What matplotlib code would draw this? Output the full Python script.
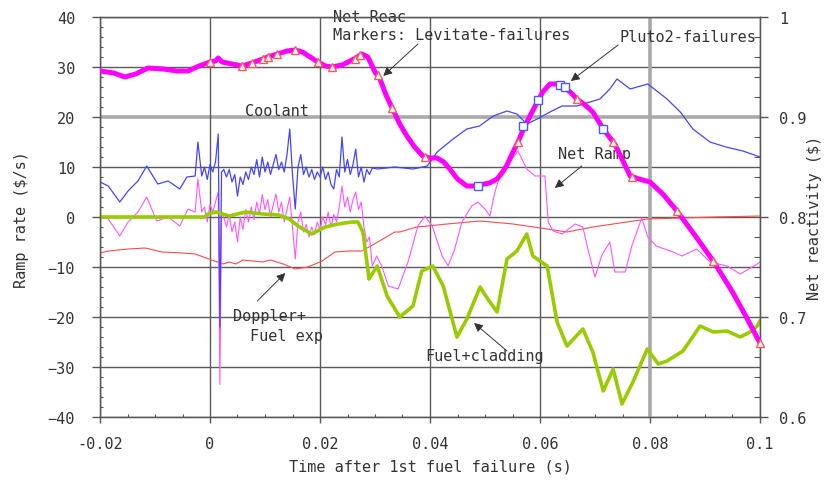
import matplotlib
matplotlib.use("Agg")
import matplotlib.pyplot as plt
from matplotlib.ticker import MultipleLocator, FixedLocator, FuncFormatter

plt.rcParams["font.family"] = ["DejaVu Sans Mono"]
plt.rcParams["font.size"] = 11

TEXT = "#333333"

# ---------------------------------------------------------------- data
# Net reactivity ($), right axis
net_t = [-0.0200, -0.0175, -0.0155, -0.0135, -0.0113, -0.0085, -0.0060, -0.0040,
         -0.0020, 0.0000, 0.0010, 0.0015, 0.0022, 0.0040, 0.0058, 0.0076, 0.0096,
         0.0105, 0.0122, 0.0140, 0.0155, 0.0168, 0.0182, 0.0196, 0.0210, 0.0222,
         0.0240, 0.0255, 0.0268, 0.0276, 0.0287, 0.0300, 0.0309, 0.0320, 0.0333,
         0.0345, 0.0358, 0.0372, 0.0387, 0.0400, 0.0413, 0.0425, 0.0436, 0.0450,
         0.0467, 0.0480, 0.0490, 0.0508, 0.0522, 0.0532, 0.0540, 0.0550, 0.0560,
         0.0570, 0.0578, 0.0595, 0.0605, 0.0618, 0.0630, 0.0640, 0.0655, 0.0667,
         0.0682, 0.0696, 0.0715, 0.0736, 0.0750, 0.0764, 0.0780, 0.0800, 0.0825,
         0.0849, 0.0880, 0.0915, 0.0950, 0.0975, 0.1000]
net_val = [0.946, 0.944, 0.940, 0.943, 0.949, 0.948, 0.946, 0.946,
           0.951, 0.955, 0.956, 0.959, 0.955, 0.953, 0.951, 0.954, 0.958,
           0.960, 0.963, 0.966, 0.967, 0.965, 0.960, 0.955, 0.951, 0.950,
           0.952, 0.956, 0.960, 0.963, 0.960, 0.945, 0.938, 0.922, 0.907,
           0.893, 0.881, 0.870, 0.861, 0.859, 0.859, 0.855, 0.848, 0.838,
           0.831, 0.831, 0.832, 0.834, 0.838, 0.845, 0.852, 0.864, 0.875,
           0.888, 0.897, 0.915, 0.925, 0.933, 0.933, 0.931, 0.925, 0.918,
           0.912, 0.905, 0.888, 0.873, 0.857, 0.841, 0.838, 0.835, 0.822,
           0.806, 0.783, 0.756, 0.725, 0.700, 0.674]

# Failure markers on the net reactivity curve
levitate_t = [0.0000, 0.0058, 0.0076, 0.0096, 0.0105, 0.0122, 0.0155, 0.0196, 0.0222,
              0.0264, 0.0273, 0.0305, 0.0331, 0.0391, 0.0560, 0.0667, 0.0733, 0.0767,
              0.0849, 0.0915, 0.1000]
levitate_val = [0.955, 0.951, 0.954, 0.958, 0.960, 0.963, 0.967, 0.955, 0.950,
                0.958, 0.962, 0.942, 0.909, 0.860, 0.875, 0.918, 0.875, 0.840,
                0.806, 0.756, 0.674]
pluto2_t = [0.0487, 0.0569, 0.0596, 0.0636, 0.0645, 0.0715]
pluto2_val = [0.831, 0.891, 0.917, 0.932, 0.930, 0.888]

# Ramp-rate components ($/s), left axis
noisy_t = [0.0025, 0.0030, 0.0035, 0.0040, 0.0045, 0.0050, 0.0055, 0.0060, 0.0065,
           0.0070, 0.0075, 0.0080, 0.0085, 0.0090, 0.0095, 0.0100, 0.0105, 0.0110,
           0.0115, 0.0120, 0.0125, 0.0130, 0.0135, 0.0140, 0.0145, 0.0150, 0.0155,
           0.0160, 0.0165, 0.0170, 0.0175, 0.0180, 0.0185, 0.0190, 0.0195, 0.0200,
           0.0205, 0.0210, 0.0215, 0.0220, 0.0225, 0.0230, 0.0235, 0.0240, 0.0245,
           0.0250, 0.0255, 0.0260, 0.0265, 0.0270, 0.0275, 0.0280, 0.0285, 0.0290,
           0.0295]

coolant_t = ([-0.0200, -0.0185, -0.0164, -0.0149, -0.0131, -0.0115, -0.0095, -0.0076,
              -0.0055, -0.0042, -0.0027, -0.0022, -0.0015, -0.0010, -0.0005, 0.0000,
              0.0005, 0.0010, 0.0015, 0.0018, 0.0021]
             + noisy_t
             + [0.0305, 0.0336, 0.0369, 0.0395, 0.0413, 0.0442, 0.0467, 0.0490, 0.0515,
                0.0540, 0.0558, 0.0576, 0.0595, 0.0618, 0.0640, 0.0667, 0.0691, 0.0709,
                0.0727, 0.0740, 0.0764, 0.0796, 0.0831, 0.0855, 0.0878, 0.0909, 0.0938,
                0.0969, 0.1000])
coolant = ([7.0, 6.2, 3.0, 5.2, 7.2, 10.2, 6.6, 7.2,
            5.6, 8.0, 8.2, 15.0, 8.2, 10.0, 7.5, 10.5,
            9.0, 11.0, 16.6, -22.0, 9.0]
           + [9.5, 8.0, 9.5, 7.0, 8.5, 4.2, 8.0, 6.5, 9.0,
              7.5, 10.0, 8.5, 11.5, 8.0, 12.0, 9.0, 11.0, 8.5,
              10.5, 12.5, 9.5, 11.0, 9.0, 12.5, 17.6, 8.5, 1.6,
              10.0, 12.5, 8.5, 10.0, 8.0, 9.5, 7.5, 9.0, 8.0,
              10.0, 7.5, 9.0, 6.5, 5.6, 9.5, 8.0, 16.0, 9.0,
              11.5, 8.5, 10.5, 13.6, 8.0, 10.0, 7.0, 9.5, 8.5,
              9.8]
           + [9.6, 10.0, 9.6, 10.2, 13.0, 15.6, 17.6, 18.2, 20.2,
              21.2, 20.6, 18.6, 19.6, 21.0, 22.2, 22.2, 23.0, 23.6,
              25.6, 27.6, 25.6, 26.6, 23.6, 21.0, 17.6, 15.0, 14.0,
              13.2, 12.0])

net_ramp_t = ([-0.0200, -0.0185, -0.0164, -0.0149, -0.0131, -0.0115, -0.0097, -0.0076,
               -0.0055, -0.0040, -0.0027, -0.0022, -0.0015, -0.0010, -0.0005, 0.0000,
               0.0005, 0.0010, 0.0015, 0.0018, 0.0021]
              + noisy_t
              + [0.0303, 0.0313, 0.0324, 0.0342, 0.0360, 0.0378, 0.0391, 0.0404, 0.0422,
                 0.0433, 0.0445, 0.0458, 0.0476, 0.0487, 0.0500, 0.0509, 0.0518, 0.0527,
                 0.0542, 0.0560, 0.0576, 0.0591, 0.0609, 0.0615, 0.0624, 0.0640, 0.0664,
                 0.0678, 0.0687, 0.0700, 0.0713, 0.0727, 0.0736, 0.0755, 0.0767, 0.0776,
                 0.0785, 0.0796, 0.0811, 0.0842, 0.0858, 0.0885, 0.0909, 0.0940, 0.0964,
                 0.0995, 0.1000])
net_ramp = ([0.0, -0.4, -3.8, -1.0, 1.0, 4.0, -0.8, 0.0,
             -1.8, 1.6, 1.0, 7.6, 1.0, 2.0, -1.0, 2.5,
             1.0, 3.0, 5.0, -33.5, 1.0]
            + [0.0, -2.0, 0.5, -3.0, -1.0, -5.0, 0.0, -2.5, 1.5,
               -1.0, 2.0, -0.5, 3.0, 0.5, 4.5, 1.5, 3.5, 0.0,
               2.5, 4.6, 1.0, 3.0, -1.0, 1.5, 4.0, -2.0, -8.4,
               -1.0, 1.0, -3.0, -1.5, -4.0, -2.0, -3.5, -1.0, -2.5,
               0.0, -1.5, 1.0, -2.0, 0.5, -1.0, 2.0, 6.2, 2.0,
               4.0, 1.0, 3.5, 5.0, 1.5, 3.0, -2.0, -5.0, -4.0,
               -9.8]
            + [-7.8, -10.0, -13.8, -14.4, -9.0, -1.8, 0.2, -1.8, -7.8,
               -9.8, -6.4, -1.0, 2.2, 3.0, 1.6, 0.2, 5.0, 8.2,
               10.6, 13.2, 9.6, 8.2, 8.2, -1.0, -2.8, -3.4, -1.4,
               -2.0, -6.4, -12.0, -7.5, -5.0, -11.0, -11.0, -5.8, -3.0,
               -0.2, -4.0, -5.8, -7.0, -7.8, -6.4, -9.0, -9.8, -11.4,
               -9.4, -9.0])

doppler_t = [-0.0200, -0.0185, -0.0149, -0.0118, -0.0087, -0.0050, -0.0027, -0.0002,
             0.0024, 0.0035, 0.0047, 0.0060, 0.0078, 0.0096, 0.0110, 0.0133, 0.0155,
             0.0178, 0.0204, 0.0227, 0.0251, 0.0276, 0.0305, 0.0336, 0.0345, 0.0376,
             0.0431, 0.0491, 0.0551, 0.0613, 0.0649, 0.0696, 0.0733, 0.0795, 0.0855,
             0.0915, 0.1000]
doppler = [-7.2, -6.8, -6.4, -6.2, -7.0, -7.2, -7.4, -8.4,
           -9.4, -9.0, -9.4, -8.6, -8.8, -9.0, -8.6, -9.4, -10.4,
           -10.0, -8.8, -7.0, -6.8, -6.8, -5.0, -3.0, -3.0, -2.0,
           -1.4, -0.8, -1.4, -2.4, -3.0, -2.0, -1.4, -0.4, -0.2,
           0.0, 0.2]

fuel_clad_t = [-0.0200, -0.0010, -0.0004, 0.0011, 0.0035, 0.0065, 0.0096, 0.0125,
               0.0144, 0.0160, 0.0185, 0.0209, 0.0233, 0.0258, 0.0269, 0.0278, 0.0287,
               0.0289, 0.0304, 0.0322, 0.0345, 0.0369, 0.0385, 0.0405, 0.0424, 0.0449,
               0.0467, 0.0491, 0.0505, 0.0522, 0.0540, 0.0558, 0.0576, 0.0587, 0.0613,
               0.0631, 0.0649, 0.0678, 0.0696, 0.0715, 0.0733, 0.0749, 0.0769, 0.0795,
               0.0815, 0.0831, 0.0860, 0.0891, 0.0915, 0.0940, 0.0964, 0.0982, 0.0995,
               0.1000]
fuel_clad = [0.0, 0.0, 0.6, 1.0, 0.2, 1.0, 0.6, 0.4,
             -0.4, -1.8, -3.4, -2.0, -1.4, -1.0, -1.0, -3.0, -10.4,
             -12.4, -9.8, -15.8, -20.0, -17.8, -10.8, -9.8, -13.8, -24.0,
             -20.4, -14.0, -16.4, -19.0, -8.4, -6.8, -3.4, -7.8, -9.8,
             -21.0, -25.8, -22.4, -27.0, -34.8, -30.4, -37.4, -33.0, -26.4,
             -29.4, -28.8, -26.8, -21.8, -23.0, -22.8, -24.0, -23.0, -21.8,
             -20.8]

# Axis ticks
x_ticks = [-0.02, 0.0, 0.02, 0.04, 0.06, 0.08, 0.1]
y_ticks = [-40, -30, -20, -10, 0, 10, 20, 30, 40]
y2_ticks = [0.6, 0.7, 0.8, 0.9, 1.0]

# ---------------------------------------------------------------- figure
fig = plt.figure(figsize=(8.36, 4.81), dpi=100)
W, H = 836, 481
ax = fig.add_axes([100 / W, (H - 418) / H, 660 / W, 400 / H])
ax.set_xlim(-0.02, 0.1)
ax.set_ylim(-40, 40)

# grid
for v in y_ticks:
    if v == 20:
        ax.axhline(v, color="#a9a9a9", lw=2.6, zorder=0.5)
    else:
        ax.axhline(v, color="#5a5a5a", lw=1.0, zorder=0.5)
for v in x_ticks:
    if abs(v - 0.08) < 1e-9:
        ax.axvline(v, color="#a9a9a9", lw=2.6, zorder=0.5)
    else:
        ax.axvline(v, color="#5a5a5a", lw=1.0, zorder=0.5)

ax.plot(doppler_t, doppler, color="#ff4a4a", lw=0.8, zorder=2)
ax.plot(net_ramp_t, net_ramp, color="#ff55ff", lw=0.8, zorder=2.1)
ax.plot(coolant_t, coolant, color="#4444ff", lw=0.9, zorder=2.2)
ax.plot(fuel_clad_t, fuel_clad, color="#99cc00", lw=2.6, zorder=2.3)

ax.xaxis.set_major_locator(FixedLocator(x_ticks))
ax.xaxis.set_minor_locator(MultipleLocator(0.005))
ax.yaxis.set_major_locator(FixedLocator(y_ticks))
ax.yaxis.set_minor_locator(MultipleLocator(2))
ax.xaxis.set_major_formatter(FuncFormatter(lambda v, p: "%g" % round(v, 3)))
ax.tick_params(axis="y", which="major", direction="out", length=6, width=1,
               color="#555555", labelcolor=TEXT, pad=12)
ax.tick_params(axis="x", which="major", direction="out", length=4, width=1,
               color="#555555", labelcolor=TEXT, pad=10)
ax.tick_params(which="minor", direction="in", length=2.5, width=0.8, color="#555555")
for s in ax.spines.values():
    s.set_color("#555555")
    s.set_linewidth(1.0)

ax2 = ax.twinx()
ax2.set_ylim(0.6, 1.0)
ax2.yaxis.set_major_locator(FixedLocator(y2_ticks))
ax2.yaxis.set_minor_locator(MultipleLocator(0.02))
ax2.yaxis.set_major_formatter(FuncFormatter(lambda v, p: "%g" % round(v, 2)))
ax2.tick_params(axis="y", which="major", direction="out", length=6, width=1,
                color="#555555", labelcolor=TEXT, pad=8)
ax2.tick_params(axis="y", which="minor", direction="in", length=4, width=0.8,
                color="#555555")
for s in ax2.spines.values():
    s.set_color("#555555")

ax2.plot(net_t, net_val, color="#ff00ff", lw=3.6, zorder=3)
ax2.plot(levitate_t, levitate_val, ls="none", marker="^", ms=5.5, mfc="white",
         mec="#ff5a5a", mew=1.0, zorder=4, clip_on=False)
ax2.plot(pluto2_t, pluto2_val, ls="none", marker="s", ms=5.5, mfc="white",
         mec="#4a5aff", mew=1.0, zorder=4, clip_on=False)

# labels on the series
arrow = dict(arrowstyle="-|>", color="#333333", lw=0.7, mutation_scale=13,
             shrinkA=0, shrinkB=0)
txt = dict(color=TEXT, fontsize=11, ha="left", va="center", zorder=6)
ax.text(0.0224, 38.2, "Net Reac\nMarkers: Levitate-failures", linespacing=1.25,
        clip_on=False, **txt)
ax.annotate("", xy=(0.0315, 28.2), xytext=(0.0378, 34.6), arrowprops=arrow,
            annotation_clip=False, zorder=6)
ax.text(0.0744, 36.1, "Pluto2-failures", clip_on=False, **txt)
ax.annotate("", xy=(0.0656, 27.2), xytext=(0.0742, 34.4), arrowprops=arrow,
            annotation_clip=False, zorder=6)
ax.text(0.0064, 21.2, "Coolant", **txt)
ax.text(0.0633, 12.6, "Net Ramp", **txt)
ax.annotate("", xy=(0.0627, 5.8), xytext=(0.0676, 10.2), arrowprops=arrow, zorder=6)
ax.text(0.0042, -19.8, "Doppler+", **txt)
ax.text(0.0073, -23.8, "Fuel exp", **txt)
ax.annotate("", xy=(0.0137, -11.2), xytext=(0.0086, -16.8), arrowprops=arrow, zorder=6)
ax.text(0.0391, -27.8, "Fuel+cladding", **txt)
ax.annotate("", xy=(0.0480, -21.2), xytext=(0.0540, -26.8), arrowprops=arrow, zorder=6)

# axis titles
fig.text(430 / W, 1 - 467 / H, "Time after 1st fuel failure (s)", color=TEXT,
         fontsize=11, ha="center", va="center")
fig.text(22 / W, 1 - 220 / H, r"Ramp rate (\$/s)", color=TEXT, fontsize=11,
         ha="center", va="center", rotation=90)
fig.text(815 / W, 1 - 218 / H, r"Net reactivity (\$)", color=TEXT, fontsize=11,
         ha="center", va="center", rotation=90)

fig.savefig("out.png", dpi=100)
